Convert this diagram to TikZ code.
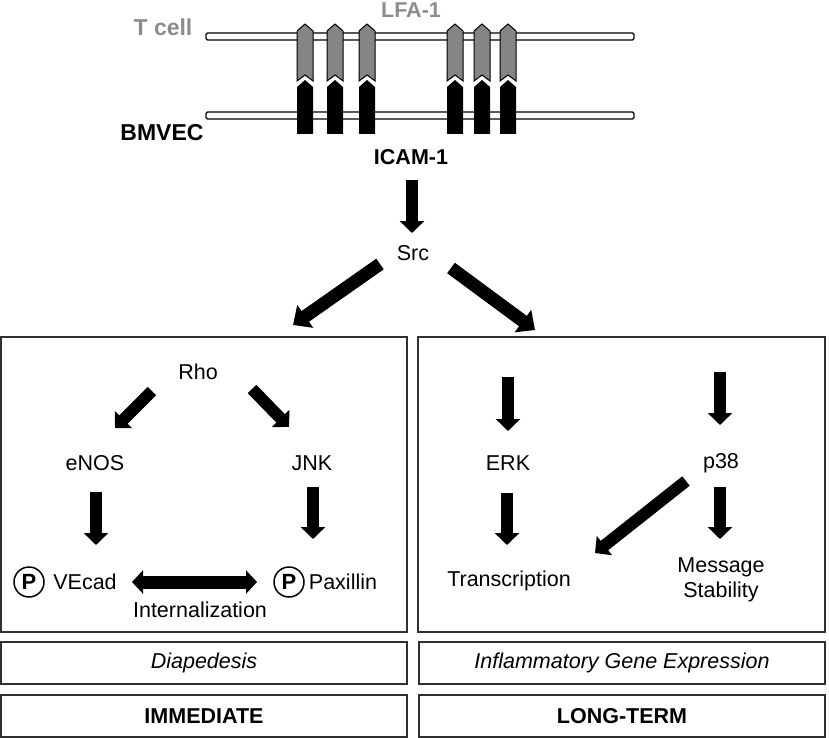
\documentclass[tikz,border=0pt]{standalone}
\usepackage{fontspec}
\setmainfont{Liberation Sans}
\usetikzlibrary{arrows.meta,calc}
\definecolor{lfagray}{HTML}{858585}
\definecolor{txtgray}{HTML}{8C8C8C}
\definecolor{boxline}{HTML}{303030}
\begin{document}
\begin{tikzpicture}[x=1pt,y=-1pt,
  txt/.style={font=\fontsize{21.5pt}{25pt}\selectfont, inner sep=1pt},
  btxt/.style={font=\fontsize{21.5pt}{25pt}\selectfont\bfseries, inner sep=1pt},
  panel/.style={draw=boxline, line width=1.7pt, inner sep=0pt, outer sep=0pt},
  membrane/.style={draw=black, fill=white, line width=1.3pt, rounded corners=1.5pt, inner sep=0pt, outer sep=0pt},
  arr/.style={line width=12pt, -{Triangle[length=12pt,width=24pt]}},
  barr/.style={line width=13pt, -{Triangle[length=15pt,width=27pt]}},
  darr/.style={line width=13pt, {Triangle[length=11pt,width=23pt]}-{Triangle[length=11pt,width=23pt]}},
  pcirc/.style={circle, draw=black, line width=1.5pt, minimum size=30pt, inner sep=0pt, font=\fontsize{22pt}{22pt}\selectfont\bfseries}
]
\useasboundingbox (0,0) rectangle (829,738);

% membranes
\node[membrane, minimum width=428pt, minimum height=7pt] (tmem) at (420,36.5) {};
\node[membrane, minimum width=428pt, minimum height=7pt] (bmem) at (420,115.5) {};

% receptors
\foreach \x in {297,327,359,447,474,500}{
  \fill[black] (\x,87) -- (\x+8,80) -- (\x+16,87) -- (\x+16,134) -- (\x,134) -- cycle;
  \draw[fill=lfagray, line width=1pt] (\x,31) -- (\x+8,24) -- (\x+16,31) -- (\x+16,81) -- (\x+8,75) -- (\x,81) -- cycle;
}

% top labels
\node[font=\fontsize{23pt}{25pt}\selectfont\bfseries, text=txtgray, inner sep=1pt] (tcell) at (163,27) {T cell};
\node[btxt, text=txtgray] (lfa) at (411,10) {LFA-1};
\node[font=\fontsize{23pt}{25pt}\selectfont\bfseries, inner sep=1pt] (bmvec) at (162,133) {BMVEC};
\node[btxt] (icam) at (411,157) {ICAM-1};
\node[txt] (src) at (413,253) {Src};

% panels
\node[panel, minimum width=406pt, minimum height=295pt] (lbox) at (204,484.5) {};
\node[panel, minimum width=407pt, minimum height=295pt] (rbox) at (621.5,484.5) {};
\node[panel, minimum width=406pt, minimum height=42pt, font=\fontsize{21.5pt}{25pt}\selectfont\itshape] (ldia) at (204,663) {Diapedesis};
\node[panel, minimum width=406pt, minimum height=42pt, font=\fontsize{21.5pt}{25pt}\selectfont\itshape] (rdia) at (622,663) {Inflammatory Gene Expression};
\node[panel, minimum width=406pt, minimum height=42pt, font=\fontsize{21.5pt}{25pt}\selectfont\bfseries] (limm) at (204,716) {IMMEDIATE};
\node[panel, minimum width=406pt, minimum height=42pt, font=\fontsize{21.5pt}{25pt}\selectfont\bfseries] (rimm) at (622,716) {LONG-TERM};

% left panel contents
\node[txt] (rho) at (198,372) {Rho};
\node[txt] (enos) at (95,463) {eNOS};
\node[txt] (jnk) at (312,463) {JNK};
\node[pcirc] (pv) at (29,582) {P};
\node[txt] (vecad) at (85,582) {VEcad};
\node[pcirc] (pp) at (289,582) {P};
\node[txt] (pax) at (343,582) {Paxillin};
\node[txt] (intern) at (200,610) {Internalization};

% right panel contents
\node[txt] (erk) at (508,463) {ERK};
\node[txt] (p38) at (721,463) {p38};
\node[txt] (trans) at (509,581) {Transcription};
\node[txt, align=center] (msg) at (721,580) {Message\\Stability};

% arrows
\draw[arr] ($(icam)+(1,23)$) -- ($(src)+(-1,-20)$);
\draw[barr] ($(src)+(-33,11)$) -- ($(lbox.north)+(89,-12)$);
\draw[barr] ($(src)+(38,15)$) -- ($(rbox.north)+(-86.5,-7)$);

\draw[arr] ($(rho)+(-46,19)$) -- ($(enos)+(20,-35)$);
\draw[arr] ($(rho)+(54,17)$) -- ($(jnk)+(-23,-36)$);
\draw[arr] ($(enos)+(1,29)$) -- ($(vecad)+(11,-37)$);
\draw[arr] ($(jnk)+(1,24)$) -- ($(pp)+(24,-43)$);
\draw[darr] ($(vecad)+(47,0)$) -- ($(pp)+(-32,0)$);

\draw[arr] ($(erk)+(0,-86)$) -- ($(erk)+(0,-32)$);
\draw[arr] ($(p38)+(-1,-91)$) -- ($(p38)+(-1,-38)$);
\draw[arr] ($(erk)+(-1,30)$) -- ($(trans)+(-2,-36)$);
\draw[arr] ($(p38)+(-1,24)$) -- ($(msg)+(-1,-41)$);
\draw[arr] ($(p38)+(-35,18)$) -- ($(trans)+(86,-28)$);
\end{tikzpicture}
\end{document}
